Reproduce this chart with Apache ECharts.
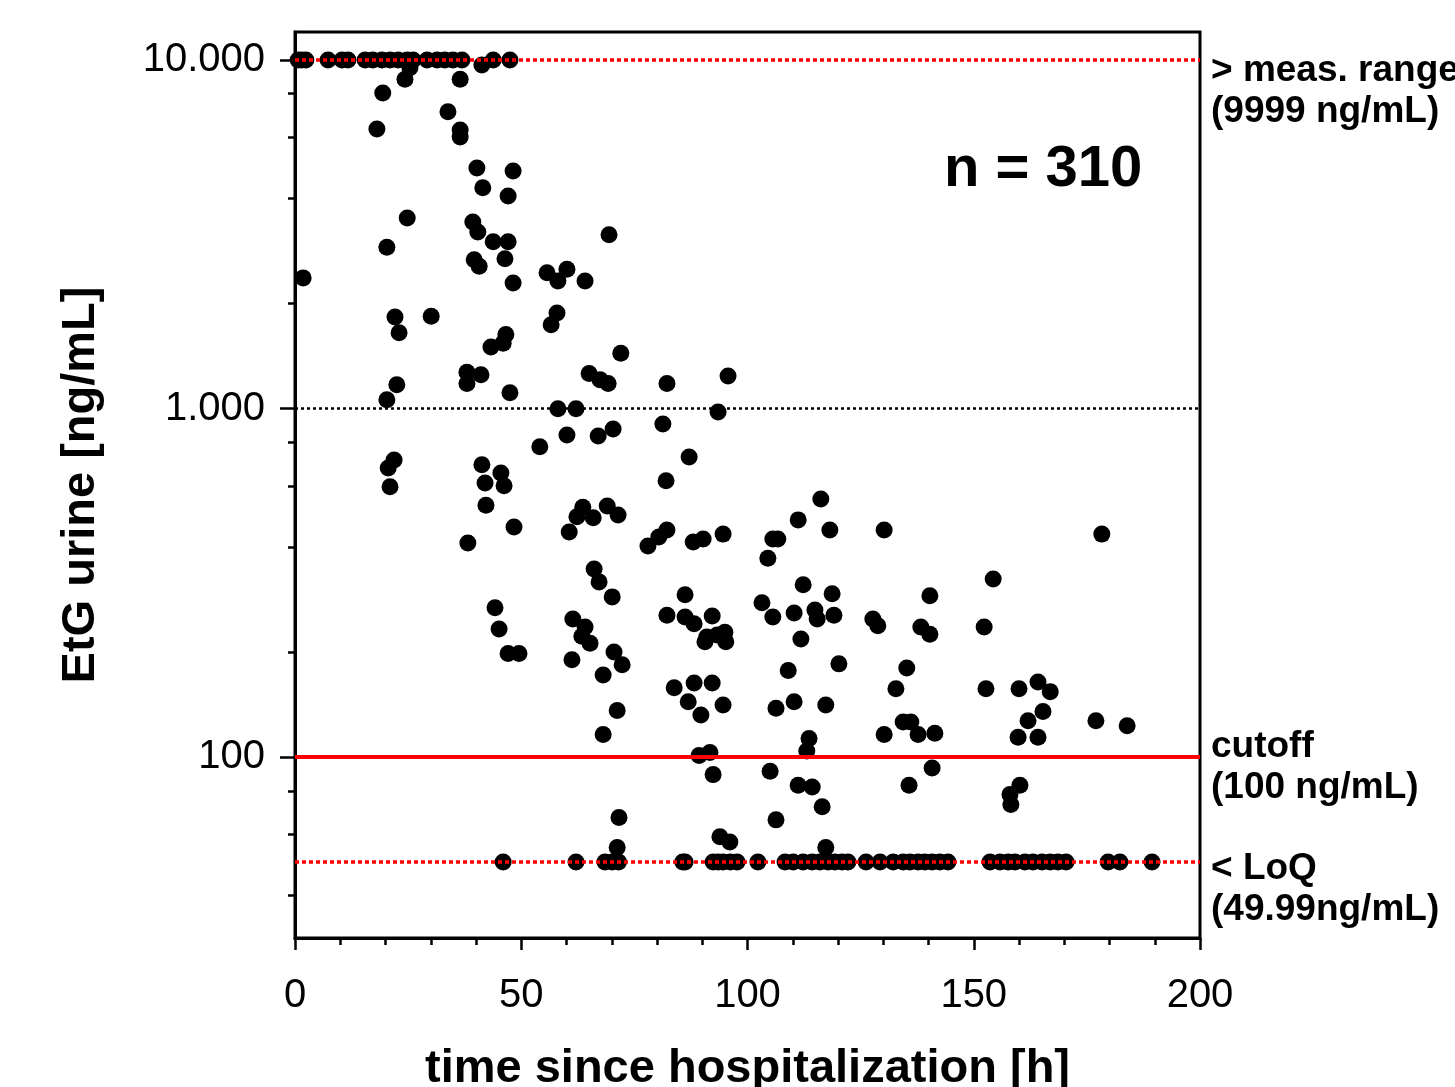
<!DOCTYPE html>
<html>
<head>
<meta charset="utf-8">
<script src="https://cdn.jsdelivr.net/npm/echarts@6/dist/echarts.min.js"></script>
<style>
  html, body { margin: 0; padding: 0; background: #fff; }
  #chart { width: 1455px; height: 1087px; }
</style>
</head>
<body>
<div id="chart"></div>
<script>
// samples above measurement range (plotted at the 9999 ng/mL line)
const aboveRangeTime = [0.7, 1.5, 2.4, 7.3, 10.4, 11.7, 15.5, 17.2, 19.2, 21.0, 22.8, 24.8, 26.1,
  29.2, 31.4, 33.1, 34.9, 36.9, 43.8, 47.5]
const aboveRangeValue = 9999

// samples below LoQ (plotted at 49.99 ng/mL)
const belowLoqTime = [46.0, 62.1, 68.5, 70.1, 71.5, 85.7, 86.2, 92.4, 93.5, 94.6, 96.2, 97.7, 102.3,
  108.3, 110.1, 112.3, 114.3, 116.0, 117.8, 119.3, 120.9, 122.2, 126.2, 129.3, 132.2, 134.4, 135.9,
  137.7, 139.2, 140.8, 142.5, 144.3, 153.6, 155.8, 157.6, 159.1, 161.3, 163.1, 165.1, 166.9, 168.6,
  170.4, 179.7, 182.3, 189.4]
const loqValue = 49.99

// measured samples: time since hospitalization [h] and EtG [ng/mL]
const measuredTime = [
  24.3, 25.4, 36.5, 19.4, 33.8, 18.1, 36.5, 36.5, 40.2, 48.2, 41.5, 47.1, 24.8, 39.3, 40.4, 43.8,
  47.1, 20.3, 39.6, 40.7, 46.4, 48.2, 1.8, 69.4, 55.7, 60.1, 58.1, 64.1, 57.9, 56.6, 22.1, 30.1,
  23.0, 46.6, 46.0, 43.3, 72.0, 38.0, 41.1, 38.0, 47.5, 22.5, 20.3, 65.0, 67.4, 69.2, 82.2, 95.7,
  58.1, 62.1, 93.5, 60.1, 67.0, 70.3, 81.3, 54.1, 87.1, 82.0, 21.9, 20.6, 21.0, 41.3, 45.5, 42.0,
  46.2, 42.2, 48.4, 38.2, 44.2, 45.1, 47.1, 49.5, 63.6, 69.0, 62.3, 65.9, 71.4, 60.6, 78.0, 80.4,
  82.2, 88.0, 90.2, 94.6, 105.6, 104.5, 66.1, 67.2, 70.1, 86.2, 82.2, 86.2, 88.2, 92.2, 91.0, 93.3,
  95.0, 90.6, 95.2, 103.2, 105.6, 61.4, 64.1, 63.4, 65.2, 70.5, 72.3, 61.2, 68.1, 71.2, 68.1, 83.8,
  88.2, 92.2, 86.9, 89.7, 94.6, 106.3, 91.7, 89.3, 116.2, 111.2, 118.2, 130.2, 106.7, 112.3, 118.7,
  140.3, 154.3, 110.3, 114.9, 115.4, 119.1, 111.8, 127.7, 128.8, 138.3, 140.3, 152.3, 109.0, 120.2,
  135.2, 132.8, 152.7, 110.3, 117.3, 130.2, 134.4, 136.1, 137.7, 141.4, 113.6, 113.1, 105.0, 111.2,
  114.3, 116.5, 140.8, 135.7, 106.3, 178.3, 160.0, 164.2, 166.9, 165.3, 162.0, 159.8, 164.2, 177.0,
  183.9, 160.2, 158.0, 158.2, 92.4, 71.6, 71.2, 93.9, 96.1, 117.3, 41.3
]
const measuredEtg = [
  8800, 9500, 8800, 8040, 7100, 6340, 6300, 6010, 4900, 4800, 4300, 4070, 3520, 3430, 3210, 3010,
  3010, 2900, 2670, 2560, 2690, 2290, 2370, 3150, 2450, 2510, 2320, 2320, 1880, 1740, 1830, 1840,
  1650, 1630, 1540, 1500, 1440, 1270, 1250, 1180, 1110, 1170, 1060, 1260, 1210, 1180, 1180, 1240,
  998, 998, 977, 839, 834, 873, 903, 776, 726, 620, 711, 675, 596, 689, 653, 611,
  600, 528, 457, 411, 268, 233, 198, 198, 521, 525, 489, 486, 495, 442, 403, 428,
  448, 414, 422, 436, 422, 372, 346, 318, 288, 292, 255, 252, 241, 254, 221, 224,
  228, 214, 214, 277, 252, 249, 236, 222, 212, 200, 184, 190, 172, 136, 116, 158,
  163, 163, 144, 132, 141, 138, 103, 101, 550, 479, 448, 448, 422, 312, 294,
  290, 324, 259, 264, 249, 255, 218, 249, 238, 236, 225, 236, 177, 185,
  180, 157, 157, 144, 141, 116, 126, 126, 116, 117, 113, 104, 91, 83,
  82, 72, 93, 83, 66, 436, 157, 164, 154, 135, 127, 114, 114, 127,
  123, 83, 78, 73, 89, 67, 55, 59, 57, 55, 9680
]

const majorTicks = [100, 1000, 10000]
const minorTicks = [40, 60, 80, 200, 400, 600, 800, 2000, 4000, 6000, 8000]

const font = 'Liberation Sans, Arial, Helvetica, sans-serif'

const points = [
  ...measuredTime.map((t, i) => [t, measuredEtg[i]]),
  ...aboveRangeTime.map(t => [t, aboveRangeValue]),
  ...belowLoqTime.map(t => [t, loqValue])
]

const chart = echarts.init(document.getElementById('chart'))

const fmtThousands = v => String(Math.round(v)).replace(/\B(?=(\d{3})+(?!\d))/g, '.')

chart.setOption({
  animation: false,
  backgroundColor: '#fff',
  grid: {
    left: 295, right: 255, top: 32, bottom: 149,
    outerBoundsMode: 'none',
    show: true, borderColor: '#000', borderWidth: 3
  },
  xAxis: {
    type: 'value',
    min: 0, max: 200, interval: 50,
    name: 'time since hospitalization [h]',
    nameLocation: 'middle',
    nameGap: 108,
    nameTextStyle: { fontFamily: font, fontSize: 47, fontWeight: 'bold', color: '#000' },
    axisLine: { show: true, lineStyle: { color: '#000', width: 3 } },
    axisTick: { show: true, length: 12, lineStyle: { color: '#000', width: 2.5 } },
    minorTick: { show: true, splitNumber: 5, length: 7, lineStyle: { color: '#000', width: 2.5 } },
    axisLabel: { fontFamily: font, fontSize: 40, color: '#000', margin: 38 },
    splitLine: { show: false }
  },
  yAxis: [
    {
      type: 'log',
      min: 30.24, max: 12030,
      name: 'EtG urine [ng/mL]',
      nameLocation: 'middle',
      nameGap: 190,
      nameTextStyle: { fontFamily: font, fontSize: 47, fontWeight: 'bold', color: '#000' },
      axisLine: { show: true, lineStyle: { color: '#000', width: 3 } },
      axisTick: { show: true, length: 15, customValues: majorTicks, lineStyle: { color: '#000', width: 2.5 } },
      axisLabel: {
        customValues: majorTicks,
        fontFamily: font, fontSize: 40, color: '#000', margin: 30,
        formatter: fmtThousands
      },
      splitLine: { show: false }
    },
    {
      type: 'log',
      min: 30.24, max: 12030,
      position: 'left',
      axisLine: { show: false },
      axisTick: { show: true, length: 7, customValues: minorTicks, lineStyle: { color: '#000', width: 2.5 } },
      axisLabel: { show: false },
      splitLine: { show: false }
    }
  ],
  series: [
    {
      type: 'scatter',
      data: [],
      z: 1,
      silent: true,
      markLine: {
        silent: true,
        symbol: 'none',
        label: { show: false },
        data: [
          { yAxis: 10000, lineStyle: { color: '#ff0000', width: 3.5, type: [4, 3] } },
          { yAxis: 1000, lineStyle: { color: '#000', width: 2.5, type: [3, 3] } },
          { yAxis: 100, lineStyle: { color: '#ff0000', width: 4, type: 'solid' } },
          { yAxis: 50, lineStyle: { color: '#ff0000', width: 3.5, type: [4, 3] } }
        ]
      }
    },
    {
      type: 'scatter',
      data: points,
      z: 3,
      symbol: 'circle',
      symbolSize: 17,
      itemStyle: { color: '#000', opacity: 1 }
    }
  ],
  graphic: [
    {
      type: 'text', left: 1211, top: 50,
      style: {
        text: '> meas. range\n(9999 ng/mL)', font: 'bold 37px ' + font,
        fill: '#000', lineHeight: 41
      }
    },
    {
      type: 'text', left: 1211, top: 726,
      style: {
        text: 'cutoff\n(100 ng/mL)', font: 'bold 37px ' + font,
        fill: '#000', lineHeight: 41
      }
    },
    {
      type: 'text', left: 1211, top: 848,
      style: {
        text: '< LoQ\n(49.99ng/mL)', font: 'bold 37px ' + font,
        fill: '#000', lineHeight: 41
      }
    },
    {
      type: 'text', left: 944, top: 141,
      style: { text: 'n = 310', font: 'bold 58px ' + font, fill: '#000' }
    }
  ]
})
</script>
</body>
</html>
